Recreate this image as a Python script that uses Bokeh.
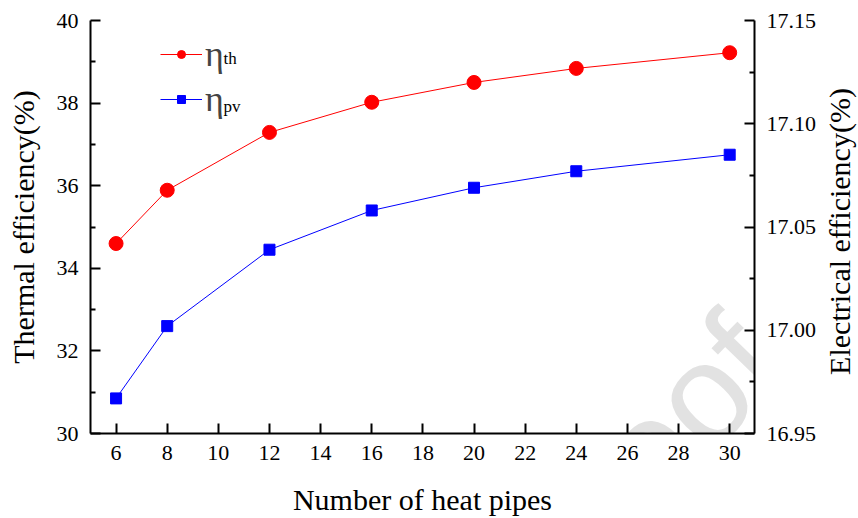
import math

from bokeh.plotting import figure
from bokeh.layouts import row
from bokeh.models import (Range1d, LinearAxis, FixedTicker, NumeralTickFormatter,
                          Legend, LegendItem, Label)
from bokeh.embed import file_html
from bokeh.resources import INLINE

# Efficiency versus the number of heat pipes
heat_pipes = [6, 8, 12, 16, 20, 24, 30]
thermal_eff = [34.60, 35.89, 37.29, 38.02, 38.50, 38.84, 39.22]
electrical_eff = [16.967, 17.002, 17.039, 17.058, 17.069, 17.077, 17.085]

x_ticks = list(range(6, 31, 2))
left_ticks = [30, 32, 34, 36, 38, 40]
right_ticks = [16.95, 17.00, 17.05, 17.10, 17.15]

FONT = "Liberation Serif"

p = figure(width=824, height=518, output_backend="svg", toolbar_location=None,
           x_range=Range1d(5, 30.97), y_range=Range1d(30, 40),
           min_border_left=90, min_border_right=70, min_border_top=20,
           min_border_bottom=84)
p.extra_y_ranges = {"elec": Range1d(16.95, 17.15)}
p.grid.visible = False
p.outline_line_color = None
p.background_fill_color = "white"
p.border_fill_color = "white"

right_axis = LinearAxis(y_range_name="elec")
p.add_layout(right_axis, "right")

for ax in [p.xaxis[0], p.yaxis[0], right_axis]:
    ax.axis_line_width = 2
    ax.axis_line_color = "black"
    ax.major_tick_line_width = 2
    ax.minor_tick_line_width = 2
    ax.major_tick_in = 10
    ax.major_tick_out = 0
    ax.minor_tick_in = 5
    ax.minor_tick_out = 0
    ax.major_label_text_font = FONT
    ax.major_label_text_font_size = "22px"
    ax.major_label_text_color = "black"
    ax.axis_label_text_font = FONT
    ax.axis_label_text_font_size = "30px"
    ax.axis_label_text_font_style = "normal"
    ax.axis_label_text_color = "black"
    ax.major_label_standoff = 12

p.xaxis[0].ticker = FixedTicker(ticks=x_ticks)
p.xaxis[0].minor_tick_line_color = None
p.xaxis[0].axis_label = "Number of heat pipes"
p.xaxis[0].axis_label_standoff = 20

p.yaxis[0].ticker = FixedTicker(ticks=left_ticks,
                                minor_ticks=[31, 33, 35, 37, 39])
p.yaxis[0].axis_label = "Thermal efficiency(%)"
p.yaxis[0].axis_label_standoff = 14

right_axis.ticker = FixedTicker(ticks=right_ticks,
                                minor_ticks=[16.975, 17.025, 17.075, 17.125])
right_axis.formatter = NumeralTickFormatter(format="0.00")

# Faint diagonal watermark
p.add_layout(Label(x=665, y=94, x_units="screen", y_units="screen",
                   text="proof", angle=0.8, text_align="right",
                   text_baseline="alphabetic",
                   text_font="Liberation Sans", text_font_size="140px",
                   text_color="#e2e2e2", level="underlay"))

th_line = p.line(heat_pipes, thermal_eff, line_color="red", line_width=1)
th_pts = p.scatter(heat_pipes, thermal_eff, marker="circle", size=14,
                   fill_color="red", line_color="red")

pv_line = p.line(heat_pipes, electrical_eff, y_range_name="elec",
                 line_color="blue", line_width=1)
pv_pts = p.scatter(heat_pipes, electrical_eff, y_range_name="elec",
                   marker="square", size=11, fill_color="blue", line_color="blue")

legend = Legend(items=[LegendItem(label="η", renderers=[th_line, th_pts]),
                       LegendItem(label="η", renderers=[pv_line, pv_pts])],
                location=(70, 313), orientation="vertical",
                glyph_width=42, glyph_height=20, label_standoff=3,
                spacing=3, padding=0, margin=0,
                label_text_font=FONT, label_text_font_size="36px",
                border_line_alpha=0, background_fill_alpha=0)
p.add_layout(legend)

# Subscripts for the legend entries
p.add_layout(Label(x=133, y=375, x_units="screen", y_units="screen",
                   text="th", text_baseline="alphabetic", text_font=FONT,
                   text_font_size="17px", text_color="black"))
p.add_layout(Label(x=133, y=327, x_units="screen", y_units="screen",
                   text="pv", text_baseline="alphabetic", text_font=FONT,
                   text_font_size="17px", text_color="black"))

# Narrow strip holding the right-hand title, reading bottom to top
side = figure(width=34, height=518, output_backend="svg", toolbar_location=None,
              min_border=0, x_range=Range1d(0, 1), y_range=Range1d(0, 1))
side.axis.visible = False
side.grid.visible = False
side.outline_line_color = None
side.border_fill_color = "white"
side.background_fill_color = "white"
side.add_layout(Label(x=15, y=202, x_units="screen", y_units="screen",
                      text="Electrical efficiency(%)", angle=math.pi / 2,
                      text_align="center", text_baseline="middle",
                      text_font=FONT, text_font_size="30px", text_color="black"))

layout = row(p, side, spacing=0)
open("out.html", "w").write(file_html(layout, INLINE))
